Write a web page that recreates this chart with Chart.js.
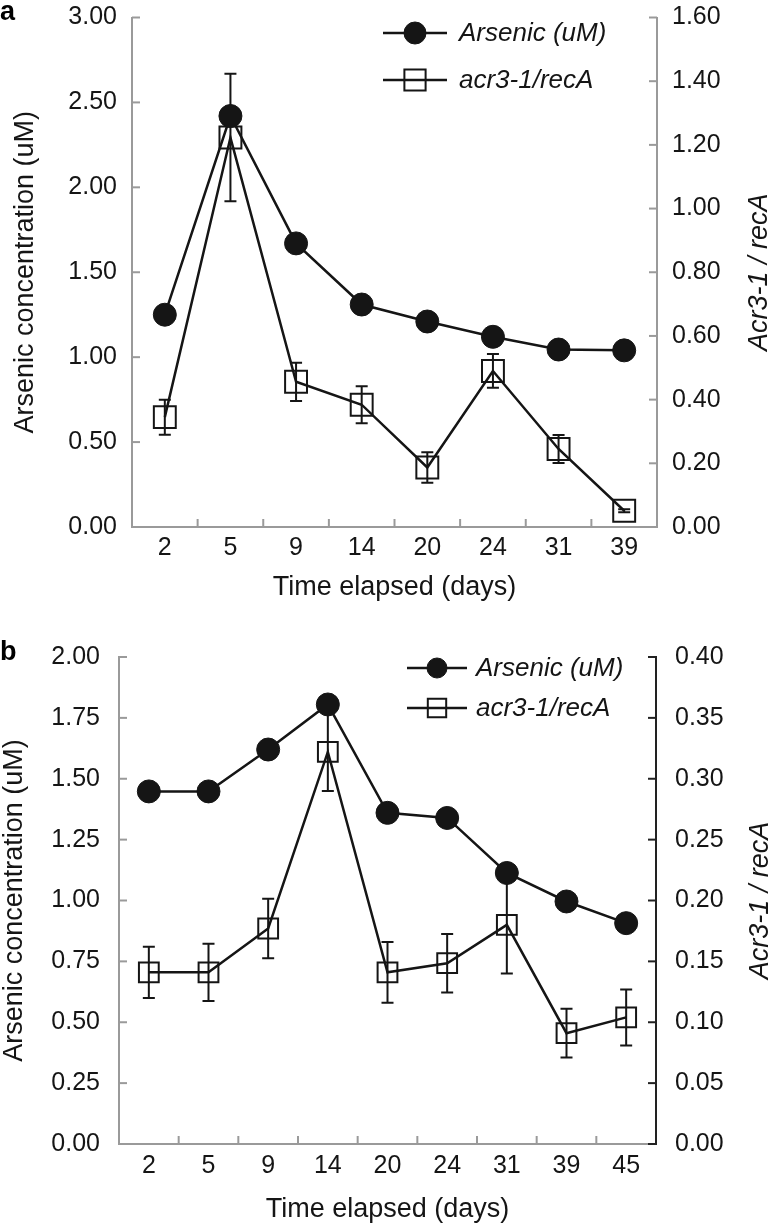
<!DOCTYPE html>
<html><head><meta charset="utf-8">
<script src="https://cdn.jsdelivr.net/npm/chart.js@4/dist/chart.umd.min.js"></script>
<style>
html,body{margin:0;padding:0;background:#fff;}
#wrap{position:relative;width:777px;height:1224px;overflow:hidden;}
canvas{position:absolute;left:0;}
</style></head><body>
<div id="wrap">
<canvas id="ca" width="777" height="612" style="top:0px"></canvas>
<canvas id="cb" width="777" height="612" style="top:612px"></canvas>
</div>
<script>
// ---------- Panel a data ----------
const daysA = ['2','5','9','14','20','24','31','39'];
const arsenicA = [1.25, 2.42, 1.67, 1.31, 1.21, 1.12, 1.045, 1.04];
const acrA = [0.345, 1.223, 0.456, 0.384, 0.187, 0.49, 0.245, 0.051];
const acrErrA = [0.055, 0.2, 0.06, 0.058, 0.048, 0.053, 0.044, 0.005];
const leftTicksA = [0, 0.5, 1.0, 1.5, 2.0, 2.5, 3.0];
const rightTicksA = [0, 0.2, 0.4, 0.6, 0.8, 1.0, 1.2, 1.4, 1.6];

// ---------- Panel b data ----------
const daysB = ['2','5','9','14','20','24','31','39','45'];
const arsenicB = [1.448, 1.448, 1.62, 1.805, 1.36, 1.339, 1.113, 0.996, 0.907];
const acrB = [0.141, 0.141, 0.177, 0.322, 0.141, 0.1485, 0.180, 0.091, 0.104];
const acrErrB = [0.021, 0.0235, 0.0245, 0.032, 0.025, 0.024, 0.04, 0.02, 0.023];
const leftTicksB = [0, 0.25, 0.5, 0.75, 1.0, 1.25, 1.5, 1.75, 2.0];
const rightTicksB = [0, 0.05, 0.1, 0.15, 0.2, 0.25, 0.3, 0.35, 0.4];

const seriesNames = ['Arsenic (uM)', 'acr3-1/recA'];
const FAM = '"Liberation Sans", Arial, Helvetica, sans-serif';
const INK = '#151515';

const extrasPlugin = {
  id: 'extras',
  beforeDatasetsDraw(chart, args, o) {
    const ctx = chart.ctx;
    const meta = chart.getDatasetMeta(o.errDataset);
    const ds = chart.data.datasets[o.errDataset];
    const sc = chart.scales[meta.yAxisID];
    ctx.save();
    ctx.strokeStyle = INK; ctx.lineWidth = 2;
    meta.data.forEach((pt, i) => {
      const v = ds.data[i], e = o.errors[i];
      const y1 = sc.getPixelForValue(v + e), y2 = sc.getPixelForValue(v - e);
      const x = pt.x, cw = o.capHalf;
      ctx.beginPath();
      ctx.moveTo(x, y1); ctx.lineTo(x, y2);
      ctx.moveTo(x - cw, y1); ctx.lineTo(x + cw, y1);
      ctx.moveTo(x - cw, y2); ctx.lineTo(x + cw, y2);
      ctx.stroke();
    });
    ctx.restore();
  },
  afterDraw(chart, args, o) {
    const ctx = chart.ctx;
    const ca = chart.chartArea;
    ctx.save();
    // inward tick marks
    const tl = 8;
    const yl = chart.scales.yL, yr = chart.scales.yR, xs = chart.scales.x;
    ctx.lineWidth = 2;
    ctx.strokeStyle = o.leftColor;
    yl.ticks.forEach((t, i) => {
      const y = yl.getPixelForTick(i);
      ctx.beginPath(); ctx.moveTo(ca.left, y); ctx.lineTo(ca.left + tl, y); ctx.stroke();
    });
    ctx.strokeStyle = o.rightColor;
    yr.ticks.forEach((t, i) => {
      const y = yr.getPixelForTick(i);
      ctx.beginPath(); ctx.moveTo(ca.right, y); ctx.lineTo(ca.right - tl, y); ctx.stroke();
    });
    ctx.strokeStyle = o.bottomColor;
    for (let i = 0; i < xs.ticks.length - 1; i++) {
      const x = (xs.getPixelForTick(i) + xs.getPixelForTick(i + 1)) / 2;
      ctx.beginPath(); ctx.moveTo(x, ca.bottom); ctx.lineTo(x, ca.bottom - tl); ctx.stroke();
    }
    // right axis title (reads bottom to top)
    ctx.fillStyle = INK;
    ctx.font = 'italic 27px ' + FAM;
    ctx.textAlign = 'center'; ctx.textBaseline = 'middle';
    ctx.translate(o.rightTitleX, (ca.top + ca.bottom) / 2);
    ctx.rotate(-Math.PI / 2);
    ctx.fillText(o.rightTitle, 0, 0);
    ctx.restore();

    // legend
    ctx.save();
    chart.data.datasets.forEach((ds, i) => {
      const y = o.legendY + i * o.legendGap;
      ctx.strokeStyle = INK; ctx.lineWidth = 2.5;
      ctx.beginPath(); ctx.moveTo(o.legendX0, y); ctx.lineTo(o.legendX1, y); ctx.stroke();
      ctx.fillStyle = ds.pointBackgroundColor; ctx.strokeStyle = INK; ctx.lineWidth = ds.pointBorderWidth;
      Chart.helpers.drawPoint(ctx, {pointStyle: ds.pointStyle, radius: o.legendRadius[i], borderWidth: ds.pointBorderWidth, rotation: 0},
        (o.legendX0 + o.legendX1) / 2, y);
      ctx.fillStyle = INK;
      ctx.font = 'italic 26px ' + FAM;
      ctx.textAlign = 'left'; ctx.textBaseline = 'middle';
      ctx.fillText(ds.label, o.legendText, y + 1);
    });
    // panel letter
    ctx.fillStyle = '#000';
    ctx.font = 'bold 27px ' + FAM;
    ctx.textAlign = 'left'; ctx.textBaseline = 'alphabetic';
    ctx.fillText(o.letter, o.letterX, o.letterY);
    ctx.restore();
  }
};

function makeChart(id, cfg) {
  const tickFont = {family: FAM, size: 25, lineHeight: 1};
  const titleFont = {family: FAM, size: 27, lineHeight: 1};
  return new Chart(document.getElementById(id), {
    type: 'line',
    data: {
      labels: cfg.days,
      datasets: [
        {label: seriesNames[0], data: cfg.arsenic, yAxisID: 'yL',
         borderColor: INK, borderWidth: 2.5, tension: 0,
         pointStyle: 'circle', pointRadius: 11.5, pointBackgroundColor: INK,
         pointBorderColor: INK, pointBorderWidth: 1},
        {label: seriesNames[1], data: cfg.acr, yAxisID: 'yR',
         borderColor: INK, borderWidth: 2.5, tension: 0,
         pointStyle: 'rect', pointRadius: cfg.sqR, pointBackgroundColor: 'rgba(0,0,0,0)',
         pointBorderColor: INK, pointBorderWidth: 2}
      ]
    },
    options: {
      responsive: false, animation: false, events: [],
      layout: {padding: {top: cfg.top, left: 0, right: 0, bottom: 0}},
      plugins: {
        legend: {display: false}, tooltip: {enabled: false},
        extras: {
          errDataset: 1, errors: cfg.err, capHalf: 6,
          leftColor: cfg.leftColor, rightColor: cfg.rightColor, bottomColor: cfg.bottomColor,
          rightTitle: 'Acr3-1 / recA', rightTitleX: cfg.rtX,
          legendX0: cfg.lgX0, legendX1: cfg.lgX1, legendText: cfg.lgT, legendY: cfg.lgY, legendGap: cfg.lgGap,
          legendRadius: cfg.lgR, letter: cfg.letter, letterX: 0, letterY: cfg.letterY
        }
      },
      scales: {
        x: {type: 'category', offset: true,
            grid: {display: false, drawTicks: false},
            border: {display: true, color: cfg.bottomColor, width: 2},
            ticks: {color: INK, font: tickFont, padding: cfg.xPad, maxRotation: 0, autoSkip: false},
            title: {display: true, text: 'Time elapsed (days)', color: INK, font: titleFont, padding: {top: 0, bottom: cfg.xtPad}},
            afterFit(s) { s.height = cfg.xH; s.paddingLeft = 0; s.paddingRight = 0; }},
        yL: {position: 'left', min: cfg.lMin, max: cfg.lMax,
            afterBuildTicks(s) { s.ticks = cfg.lTicks.map(v => ({value: v})); },
            grid: {display: false, drawTicks: false},
            border: {display: true, color: cfg.leftColor, width: 2},
            ticks: {color: INK, font: tickFont, padding: cfg.yPad, callback: v => Number(v).toFixed(2)},
            title: {display: true, text: 'Arsenic concentration (uM)', color: INK, font: titleFont, padding: {top: cfg.ltPad, bottom: 0}},
            afterFit(s) { s.width = cfg.lW; s.paddingTop = 0; s.paddingBottom = 0; }},
        yR: {position: 'right', min: cfg.rMin, max: cfg.rMax,
            afterBuildTicks(s) { s.ticks = cfg.rTicks.map(v => ({value: v})); },
            grid: {display: false, drawTicks: false},
            border: {display: true, color: cfg.rightColor, width: 2},
            ticks: {color: INK, font: tickFont, padding: cfg.yPad, callback: v => Number(v).toFixed(2)},
            afterFit(s) { s.width = cfg.rW; s.paddingTop = 0; s.paddingBottom = 0; }}
      }
    },
    plugins: [extrasPlugin]
  });
}

makeChart('ca', {
  days: daysA, arsenic: arsenicA, acr: acrA, err: acrErrA, sqR: 15.5,
  lTicks: leftTicksA, rTicks: rightTicksA, lMin: 0, lMax: 3, rMin: 0, rMax: 1.6,
  top: 14, xH: 85, lW: 132, rW: 120, xPad: 9, xtPad: 11, yPad: 15, ltPad: 12,
  leftColor: '#9a9a9a', rightColor: '#9a9a9a', bottomColor: '#9a9a9a',
  rtX: 759, lgX0: 383, lgX1: 447, lgT: 459, lgY: 33, lgGap: 47, lgR: [11, 15],
  letter: 'a', letterY: 20
});

makeChart('cb', {
  days: daysB, arsenic: arsenicB, acr: acrB, err: acrErrB, sqR: 14,
  lTicks: leftTicksB, rTicks: rightTicksB, lMin: 0, lMax: 2, rMin: 0, rMax: 0.4,
  top: 45, xH: 80, lW: 119, rW: 121, xPad: 10, xtPad: 1, yPad: 19, ltPad: 1,
  leftColor: '#9a9a9a', rightColor: '#222222', bottomColor: '#9a9a9a',
  rtX: 760, lgX0: 407, lgX1: 467, lgT: 476, lgY: 56, lgGap: 40, lgR: [10, 13],
  letter: 'b', letterY: 48
});
</script>
</body></html>
